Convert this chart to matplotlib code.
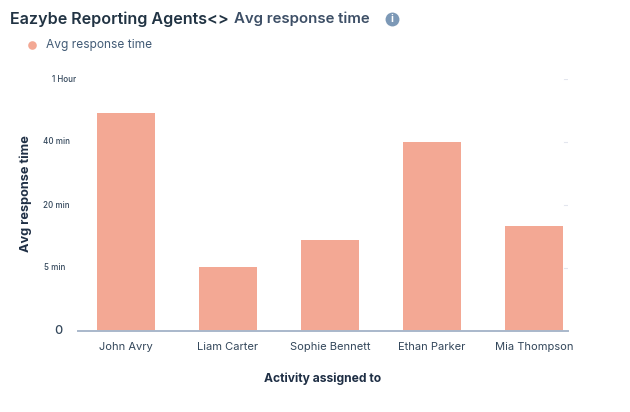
import numpy as np
import matplotlib
matplotlib.use('Agg')
import matplotlib.pyplot as plt
from matplotlib.lines import Line2D
from matplotlib.transforms import ScaledTranslation

agents = ['John Avry', 'Liam Carter', 'Sophie Bennett', 'Ethan Parker', 'Mia Thompson']
# minutes
response_minutes = [49.2, 5.2, 11.7, 40, 15]
tick_minutes = [0, 5, 20, 40, 60]
tick_labels = ['0', '5 min', '20 min', '40 min', '1 Hour']
tick_slots = [0, 1, 2, 3, 4]

W, H = 630, 412
plt.rcParams['font.family'] = ['Inter', 'DejaVu Sans']

fig = plt.figure(figsize=(W / 100, H / 100), dpi=100)
ax = fig.add_axes([78 / W, 1 - 331 / H, 490 / W, 252 / H])

# the source axis has evenly spaced ticks for uneven minutes
ax.set_yscale('function', functions=(
    lambda v: np.interp(v, tick_minutes, tick_slots),
    lambda s: np.interp(s, tick_slots, tick_minutes),
))

x = np.arange(len(agents))
ax.bar(x, response_minutes, width=0.569, color='#f3a894', zorder=2)
ax.set_xlim(-0.47, 4.333)
ax.set_ylim(0, 60)

ax.set_xticks(x)
ax.set_xticklabels(agents, fontsize=8, color='#33475b')
ax.tick_params(axis='x', length=0, pad=8)

ax.set_yticks(tick_minutes)
ax.set_yticklabels(tick_labels, fontsize=5.8, color='#33475b', fontweight='medium')
ax.yaxis.minorticks_off()
ax.tick_params(axis='y', length=0, pad=8)

# labels are not right aligned in the source, nudge each one (px)
nudges = [(-4, 1), (-2, 2), (3, 1), (3, 2), (9, 1)]
for lab, (dx, dy) in zip(ax.get_yticklabels(), nudges):
    lab.set_transform(lab.get_transform() + ScaledTranslation(dx / 100, dy / 100, fig.dpi_scale_trans))
ax.get_yticklabels()[0].set_fontsize(9)

for side in ['top', 'right', 'left']:
    ax.spines[side].set_visible(False)
ax.spines['bottom'].set_color('#a9b8cb')
ax.spines['bottom'].set_linewidth(1.4)

# faint leftovers of the gridlines at the right end
for m in tick_minutes[1:]:
    ax.plot([4.29, 4.33], [m, m], color='#e3e6ee', lw=0.8, zorder=1)

fig.text(323 / W, 1 - 379 / H, 'Activity assigned to', ha='center', va='center',
         fontsize=8.7, fontweight='bold', color='#1f2f45')
fig.text(26 / W, 1 - 194 / H, 'Avg response time', ha='center', va='center', rotation=90,
         fontsize=9.2, fontweight='bold', color='#1f2f45')

fig.text(10 / W, 1 - 19 / H, 'Eazybe Reporting Agents<>', ha='left', va='center',
         fontsize=11.6, fontweight='semibold', color='#213343')
fig.text(234 / W, 1 - 19 / H, 'Avg response time', ha='left', va='center',
         fontsize=10.8, fontweight='semibold', color='#3d4f66')

fig.add_artist(Line2D([392 / W], [1 - 18.5 / H], marker='o', ms=10, color='#7c98b6', mec='none'))
fig.text(392 / W, 1 - 18.5 / H, 'i', ha='center', va='center', fontsize=7.5,
         fontweight='bold', color='white')

fig.add_artist(Line2D([32 / W], [1 - 45 / H], marker='o', ms=6.2, color='#f3a894', mec='none'))
fig.text(46 / W, 1 - 45 / H, 'Avg response time', ha='left', va='center',
         fontsize=8.6, color='#425b76')

fig.savefig('out.png', dpi=100)
